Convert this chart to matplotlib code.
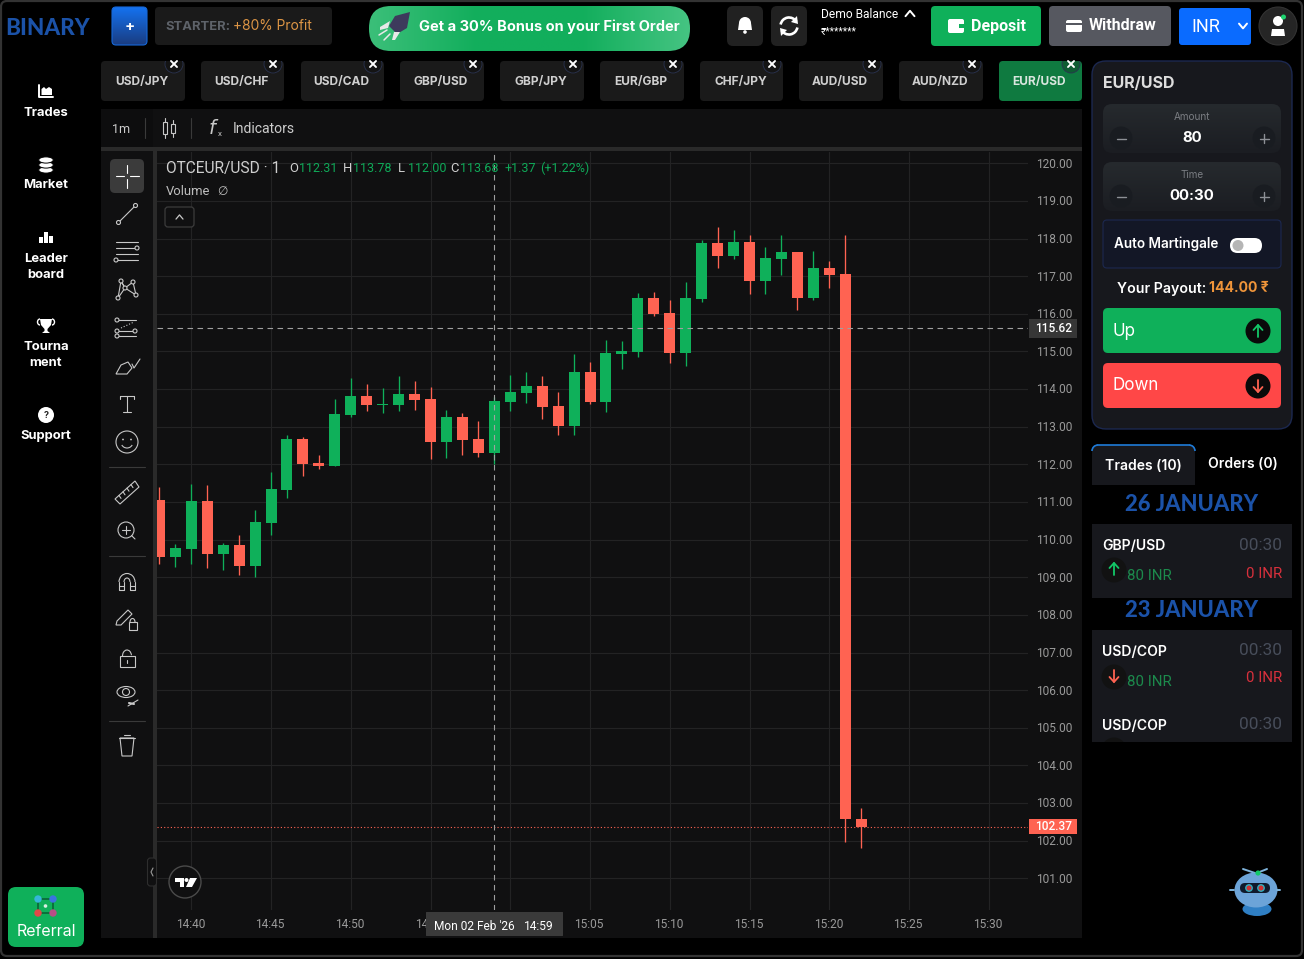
import matplotlib
matplotlib.use('Agg')
import matplotlib.pyplot as plt
import numpy as np
from matplotlib.patches import FancyBboxPatch, Circle, Ellipse, Rectangle, Polygon, Wedge, Arc
from matplotlib.colors import LinearSegmentedColormap
from matplotlib.transforms import ScaledTranslation

# candle data (1m candles)
times = ['14:38', '14:39', '14:40', '14:41', '14:42', '14:43', '14:44', '14:45', '14:46',
         '14:47', '14:48', '14:49', '14:50', '14:51', '14:52', '14:53', '14:54', '14:55',
         '14:56', '14:57', '14:58', '14:59', '15:00', '15:01', '15:02', '15:03', '15:04',
         '15:05', '15:06', '15:07', '15:08', '15:09', '15:10', '15:11', '15:12', '15:13',
         '15:14', '15:15', '15:16', '15:17', '15:18', '15:19', '15:20', '15:21', '15:22']
opens = [111.05, 109.55, 109.76, 111.03, 109.63, 109.86, 109.31, 110.45, 111.33,
         112.67, 112.04, 111.96, 113.32, 113.81, 113.58, 113.58, 113.87, 113.73,
         112.60, 113.26, 112.67, 112.31, 113.66, 113.90, 114.08, 113.55, 113.03,
         114.45, 113.66, 114.94, 114.99, 116.42, 116.02, 114.96, 116.40, 117.88,
         117.54, 117.90, 116.88, 117.46, 117.64, 116.42, 117.21, 117.05, 102.59]
highs = [111.40, 109.89, 111.48, 111.45, 109.91, 110.12, 110.79, 111.80, 112.78,
         112.73, 112.25, 113.73, 114.29, 114.13, 114.03, 114.35, 114.21, 114.05,
         113.44, 113.36, 113.15, 113.78, 114.37, 114.45, 114.35, 113.92, 114.93,
         114.72, 115.30, 115.27, 116.55, 116.58, 116.36, 116.84, 117.96, 118.30,
         118.22, 118.09, 117.77, 118.09, 117.64, 117.66, 117.40, 118.09, 102.88]
lows = [109.34, 109.28, 109.34, 109.26, 109.20, 109.07, 109.02, 110.13, 111.12,
        111.70, 111.88, 111.96, 113.27, 113.42, 113.37, 113.42, 113.45, 112.15,
        112.18, 112.26, 112.20, 112.00, 113.42, 113.64, 113.21, 112.79, 112.79,
        113.61, 113.40, 114.54, 114.86, 115.95, 114.70, 114.62, 116.32, 117.22,
        117.46, 116.53, 116.53, 117.04, 116.11, 116.37, 116.69, 101.96, 101.80]
closes = [109.55, 109.78, 111.03, 109.63, 109.86, 109.31, 110.47, 111.35, 112.67,
          112.02, 111.96, 113.34, 113.81, 113.58, 113.60, 113.87, 113.72, 112.60,
          113.26, 112.65, 112.31, 113.68, 113.92, 114.08, 113.53, 113.03, 114.45,
          113.66, 114.96, 115.01, 116.42, 116.00, 114.96, 116.42, 117.88, 117.54,
          117.90, 116.88, 117.48, 117.64, 116.42, 117.21, 117.04, 102.57, 102.37]

price_ticks = [120, 119, 118, 117, 116, 115, 114, 113, 112, 111, 110, 109, 108, 107, 106, 105, 104, 103, 102, 101]
time_ticks = ['14:40', '14:45', '14:50', '14:55', '15:00', '15:05', '15:10', '15:15', '15:20', '15:25', '15:30']
tabs = ['USD/JPY', 'USD/CHF', 'USD/CAD', 'GBP/USD', 'GBP/JPY', 'EUR/GBP', 'CHF/JPY', 'AUD/USD', 'AUD/NZD', 'EUR/USD']
cross_price = 115.62
last_price = 102.37
cross_time = '14:59'

GREEN = '#0fb05a'
RED = '#ff6352'
UI = 'Inter'
W, H = 1304, 959


def minutes(t):
    return (int(t[:2]) - 14) * 60 + int(t[3:]) - 40


fig = plt.figure(figsize=(W / 100, H / 100), dpi=100, facecolor='black')

back = fig.add_axes([0, 0, 1, 1], zorder=0)
back.set_xlim(0, W)
back.set_ylim(H, 0)
back.axis('off')
back.add_patch(Rectangle((101, 109), 981, 829, fc='#101011', ec='none'))
back.add_patch(Rectangle((101, 147), 981, 4, fc='#2a2a2a', ec='none'))
back.add_patch(Rectangle((153, 151), 4, 787, fc='#2a2a2a', ec='none'))
back.add_patch(Rectangle((101, 109), 52, 38, fc='#0d0d0e', ec='none'))

# main chart
ax = fig.add_axes([157 / W, 1 - 910 / H, 871 / W, 758 / H], zorder=1)
ax.set_facecolor('none')
for s in ax.spines.values():
    s.set_visible(False)
ax.set_xlim(-2.15, 52.46)
ax.set_ylim(100.16, 120.30)
ax.set_axisbelow(True)
ax.grid(True, color='#232324', lw=0.8)
ax.set_yticks(price_ticks)
ax.set_yticklabels(['%.2f' % p for p in price_ticks])
ax.yaxis.tick_right()
ax.set_xticks([minutes(t) for t in time_ticks])
ax.set_xticklabels(time_ticks)
ax.tick_params(length=0, colors='#9a9a9a', labelsize=8.6)
ax.tick_params(axis='y', pad=5.8)
ax.tick_params(axis='x', pad=5.5)
for lab in ax.get_xticklabels() + ax.get_yticklabels():
    lab.set_family('Roboto')
nudge = ScaledTranslation(-0.9 / 100, 0, fig.dpi_scale_trans)
for lab in ax.get_xticklabels():
    lab.set_transform(lab.get_transform() + nudge)
nudge_y = ScaledTranslation(0, 0.7 / 100, fig.dpi_scale_trans)
for lab in ax.get_yticklabels():
    lab.set_transform(lab.get_transform() + nudge_y)

for t, o, h, l, c in zip(times, opens, highs, lows, closes):
    col = GREEN if c >= o else RED
    m = minutes(t)
    ax.vlines(m, l, h, color=col, lw=0.95, zorder=3)
    ax.bar(m, abs(c - o), bottom=min(o, c), width=0.69, color=col, lw=0, zorder=3)

ax.axhline(cross_price, color='#a0a0a0', lw=0.8, dashes=(5, 4), zorder=4)
ax.axvline(minutes(cross_time), color='#a0a0a0', lw=0.8, dashes=(5, 4), zorder=4)
ax.axhline(last_price, color=RED, lw=0.8, dashes=(1, 2), zorder=2)

tr = ax.get_yaxis_transform()
ax.add_patch(Rectangle((1.001, cross_price - 0.25), 48 / 871, 0.5, transform=tr, fc='#363636', ec='none', clip_on=False, zorder=5))
ax.text(1.002 + 24 / 871, cross_price, '%.2f' % cross_price, transform=tr, color='white', fontsize=8.6, family='Roboto', ha='center', va='center', weight='medium', zorder=6)
ax.add_patch(Rectangle((1.001, last_price - 0.20), 48 / 871, 0.40, transform=tr, fc=RED, ec='none', clip_on=False, zorder=5))
ax.text(1.002 + 24 / 871, last_price, '%.2f' % last_price, transform=tr, color='white', fontsize=8.6, family='Roboto', ha='center', va='center', weight='medium', zorder=6)

# everything else sits on a pixel overlay
ui = fig.add_axes([0, 0, 1, 1], zorder=2)
ui.axis('off')
ui.patch.set_visible(False)


def box(x0, y0, x1, y1, r, fc, ec='none', lw=0.0, **kw):
    p = FancyBboxPatch((x0 + r, y0 + r), x1 - x0 - 2 * r, y1 - y0 - 2 * r,
                       boxstyle='round,pad=%f,rounding_size=%f' % (r, r), fc=fc, ec=ec, lw=lw, **kw)
    ui.add_patch(p)
    return p


def gbox(x0, y0, x1, y1, r, colors, horizontal=False, ec='none', lw=0.0):
    cm = LinearSegmentedColormap.from_list('g', colors)
    g = np.linspace(0, 1, 128).reshape(-1, 1)
    if horizontal:
        g = g.T
    im = ui.imshow(g, extent=(x0, x1, y1, y0), cmap=cm, aspect='auto', zorder=1.5)
    p = box(x0, y0, x1, y1, r, 'none', ec=ec, lw=lw, zorder=1.6)
    im.set_clip_path(p)


def txt(x, y, s, px, color='white', weight='normal', ha='left', fam=UI, **kw):
    return ui.text(x, y + 1.5, s, fontsize=px * 0.72, color=color, weight=weight, ha=ha, va='center', family=fam, **kw)


def ln(xs, ys, color='#c8c8c8', lw=0.8, **kw):
    ui.plot(xs, ys, color=color, lw=lw, solid_capstyle='round', **kw)


def circ(x, y, r, fc='none', ec='#c8c8c8', lw=0.8, **kw):
    p = Circle((x, y), r, fc=fc, ec=ec, lw=lw, **kw)
    ui.add_patch(p)
    return p


def arrow(x, y, col, up=True, s=6):
    d = -1 if up else 1
    ln([x, x], [y - d * s, y + d * s], col, 1.3, zorder=6)
    ln([x - 4.5, x, x + 4.5], [y + d * (s - 5), y + d * s, y + d * (s - 5)], col, 1.3, zorder=6)


def chev(x, y, s, col='white', lw=1.5, up=True):
    d = -1 if up else 1
    ln([x - s, x, x + s], [y - d * s * 0.6, y + d * s * 0.6, y - d * s * 0.6], col, lw)


# window frame
box(1, 1, 1302, 956, 6, 'none', ec='#333333', lw=1.6)

# top bar
txt(5, 27, 'BINARY', 22.5, '#1b52a8', 'black', fam='Lato')
gbox(112, 7, 147, 45, 4, ['#1472f0', '#1a3c80'], ec='#1668d8', lw=0.8)
txt(129.5, 25, '+', 15, 'white', 'bold', 'center')
box(155, 7, 332, 45, 4, '#1a1a1a')
txt(165, 25, 'STARTER:', 13, '#5e636a', 'bold')
txt(233, 25, '+80% Profit', 13.8, '#dd9545')
gbox(369, 6, 690, 51, 22, ['#3bbf79', '#12ae5c', '#12ae5c', '#45c482'], horizontal=True)
txt(419, 25, 'Get a 30% Bonus on your First Order', 14.6, 'white', 'bold')

# rocket
rx, ry = 396, 25
ui.add_patch(Polygon([(rx + 14, ry - 13), (rx + 11, ry + 3), (rx + 1, ry + 9), (rx - 7, ry + 1), (rx - 1, ry - 9)], fc='#3d3a5c', ec='none', zorder=3))
ui.add_patch(Polygon([(rx - 6, ry - 4), (rx - 16, ry + 2), (rx - 16, ry + 5), (rx - 8, ry + 3)], fc='#e8e8e8', ec='none', zorder=3))
ui.add_patch(Polygon([(rx + 4, ry + 7), (rx - 1, ry + 15), (rx - 4, ry + 15), (rx - 2, ry + 7)], fc='#e8e8e8', ec='none', zorder=3))
ln([rx - 17, rx - 9], [ry + 10, ry + 5], '#e8e8e8', 1.1, zorder=3)
ln([rx - 12, rx - 6], [ry + 15, ry + 9], '#e8e8e8', 1.1, zorder=3)

box(727, 6, 763, 46, 6, '#212121')
ui.add_patch(Wedge((745, 23), 6, 180, 360, fc='white', ec='none', zorder=3))
ui.add_patch(Polygon([(739, 23), (751, 23), (752, 30), (738, 30)], fc='white', ec='none', zorder=3))
circ(745, 32, 1.8, 'white', 'none', 0)
box(771, 6, 807, 46, 6, '#212121')
ui.add_patch(Arc((789, 26), 17, 17, theta1=190, theta2=330, ec='white', lw=1.9, zorder=3))
ui.add_patch(Arc((789, 26), 17, 17, theta1=10, theta2=150, ec='white', lw=1.9, zorder=3))
ui.add_patch(Polygon([(797, 16), (798, 24), (791, 22)], fc='white', ec='none', zorder=3))
ui.add_patch(Polygon([(781, 36), (780, 28), (787, 30)], fc='white', ec='none', zorder=3))

txt(821, 13, 'Demo Balance', 12, 'white', fam='Roboto')
chev(910, 13.5, 4.5, 'white', 1.4, up=True)
txt(821, 30, '₹*******', 10, 'white', fam=['Roboto', 'DejaVu Sans'])

box(931, 6, 1041, 46, 4, '#0fb05a')
box(948, 19, 964, 33, 2, 'white')
ui.add_patch(Rectangle((959, 24), 5, 4, fc='#0fb05a', ec='none', zorder=3))
txt(971, 24.5, 'Deposit', 16, 'white', 'bold', fam='Roboto')
box(1049, 6, 1171, 46, 4, '#565860')
box(1066, 20, 1082, 32, 2, 'white')
ui.add_patch(Rectangle((1066, 23), 16, 2, fc='#565860', ec='none', zorder=3))
txt(1089, 24.5, 'Withdraw', 16, 'white', 'bold', fam='Roboto')
box(1179, 8, 1251, 45, 3, '#0a6bff')
txt(1191, 26, 'INR', 18, 'white', fam='Roboto')
chev(1243, 26, 4, 'white', 1.4, up=False)
circ(1278, 26, 19, '#252525', '#333333', 0.8)
circ(1278, 21, 5, 'white', 'none', 0)
ui.add_patch(Polygon([(1271, 36), (1272, 29), (1284, 29), (1285, 36)], fc='white', ec='none', zorder=3))
circ(1283.5, 17, 2.5, '#1ed36f', 'none', 0)

# pair tabs
tab_x0 = [101, 201, 301, 400, 500, 600, 700, 799, 899, 999]
tab_x1 = [185, 284, 384, 484, 584, 684, 783, 883, 983, 1082]
for name, x0, x1 in zip(tabs, tab_x0, tab_x1):
    active = x0 == 999
    box(x0, 61, x1, 101, 4, '#0f7a40' if active else '#1a1a1a')
    txt((x0 + x1) / 2 - 1, 80, name, 12, '#cfcfcf' if not active else '#d8e6de', 'bold', 'center')
    clip = Rectangle((x0, 61), x1 - x0 + 5, 40, transform=ui.transData)
    c = circ(x1 - 11, 64, 9, '#141414' if not active else '#0f5c33', '#2a3350', 0.6)
    c.set_clip_path(clip)
    cx, cy = x1 - 11, 64
    ln([cx - 3, cx + 3], [cy - 3, cy + 3], 'white', 1.4)
    ln([cx - 3, cx + 3], [cy + 3, cy - 3], 'white', 1.4)

# chart top toolbar
txt(112, 128, '1m', 12.5, '#cccccc', fam='Roboto')
ln([145, 145], [118, 138], '#3a3a3a')
ln([191, 191], [118, 138], '#3a3a3a')
ui.add_patch(Rectangle((162.5, 122), 4, 12, fc='none', ec='#c8c8c8', lw=0.8))
ui.add_patch(Rectangle((170.5, 124), 4, 9, fc='none', ec='#c8c8c8', lw=0.8))
ln([164.5, 164.5], [118, 122]); ln([164.5, 164.5], [134, 138])
ln([172.5, 172.5], [120, 124]); ln([172.5, 172.5], [133, 137])
ui.text(214, 128, r'$f$', fontsize=14, color='#c8c8c8', ha='center', va='center', family='DejaVu Serif')
txt(218, 133, 'x', 8, '#c8c8c8', fam='Roboto')
txt(233, 127.5, 'Indicators', 14, '#cccccc', fam='Roboto')

# legend over chart
txt(166, 167, 'OTCEUR/USD · 1', 15.5, '#cfcfcf', fam='Roboto')
for x, lab, val in [(289, 'O', '112.31'), (343, 'H', '113.78'), (398, 'L', '112.00'), (450, 'C', '113.68')]:
    txt(x, 167, lab, 13, '#cfcfcf', fam='Roboto')
    txt(x + 10, 167, val, 12.5, '#0fa958', fam='Roboto')
txt(504, 167, '+1.37', 12.5, '#0fa958', fam='Roboto')
txt(540, 167, '(+1.22%)', 12.5, '#0fa958', fam='Roboto')
txt(166, 190, 'Volume', 13, '#bdbdbd', fam='Roboto')
txt(217, 190, '∅', 12, '#bdbdbd', fam='DejaVu Sans')
box(165, 207, 194, 227, 3, '#101011', '#3c3c3c', 0.9)
chev(179.5, 217, 3.5, '#c8c8c8', 0.9, up=True)

# drawing tools column
box(110, 159, 144, 193, 5, '#3b3b3b')
ln([116, 124], [176, 176], 'white'); ln([130, 139], [176, 176], 'white')
ln([127, 127], [165, 173], 'white'); ln([127, 127], [179, 188], 'white')
ln([118.5, 135.5], [222.5, 205.5])
circ(118.5, 222.5, 2, '#101011', zorder=3); circ(135.5, 205.5, 2, '#101011', zorder=3)
for y in [242, 248, 254, 260]:
    ln([116, 138], [y, y])
circ(137, 248, 2, '#101011', zorder=3); circ(116, 260, 2, '#101011', zorder=3)
pts = [(118, 298), (121, 281), (125, 288), (133, 282), (136, 295)]
ln([p[0] for p in pts], [p[1] for p in pts])
ln([118, 125], [298, 288]); ln([121, 125], [281, 288]); ln([125, 136], [288, 295])
for p in pts:
    circ(p[0], p[1], 2, '#101011', zorder=3)
for y, xa in [(320, 117), (331, 117), (336, 117)]:
    ln([xa, 136], [y, y])
ln([121, 134], [328, 322], lw=0.8, ls=':')
for p in [(117, 320), (117, 331), (117, 336), (135, 331)]:
    circ(p[0], p[1], 2, '#101011', zorder=3)
ui.add_patch(Polygon([(116, 374), (121, 365), (128, 362), (132, 368), (127, 374)], fc='none', ec='#c8c8c8', lw=0.8))
ln([132, 134, 140], [364, 368, 359])
ln([120, 134], [396, 396]); ln([127, 127], [396, 412]); ln([123, 131], [412, 412]); ln([120, 120], [396, 399]); ln([134, 134], [396, 399])
circ(127, 442, 11)
circ(123, 439.5, 0.9, '#c8c8c8', 'none', 0); circ(131, 439.5, 0.9, '#c8c8c8', 'none', 0)
ui.add_patch(Arc((127, 442), 12, 12, theta1=30, theta2=150, ec='#c8c8c8', lw=0.8))
for y in [467, 556, 721]:
    ln([109, 145], [y, y], '#3a3a3a')
ui.add_patch(Polygon([(115, 499), (135, 481), (139, 487), (120, 504)], fc='none', ec='#c8c8c8', lw=0.8))
for t in [0.2, 0.4, 0.6, 0.8]:
    xa, ya = 115 + 20 * t, 499 - 18 * t
    ln([xa, xa + 2], [ya, ya + 3])
circ(126, 530, 8)
ln([122, 130], [530, 530]); ln([126, 126], [526, 534]); ln([131.5, 135], [535.5, 539])
ui.add_patch(Arc((127, 582), 16, 17, theta1=180, theta2=360, ec='#c8c8c8', lw=0.8))
ui.add_patch(Arc((127, 582), 6, 8, theta1=180, theta2=360, ec='#c8c8c8', lw=0.8))
ln([119, 119, 124, 124], [582, 590, 590, 582]); ln([130, 130, 135, 135], [582, 590, 590, 582])
ln([119, 124], [586, 586]); ln([130, 135], [586, 586])
ui.add_patch(Polygon([(116, 625), (117, 621), (128, 610), (132, 614), (121, 625)], fc='none', ec='#c8c8c8', lw=0.8))
ui.add_patch(Rectangle((128.5, 622), 8, 8, fc='none', ec='#c8c8c8', lw=0.8))
ui.add_patch(Arc((132.5, 622), 5, 7, theta1=180, theta2=360, ec='#c8c8c8', lw=0.8))
ui.add_patch(Rectangle((119.5, 656), 15, 11, fc='none', ec='#c8c8c8', lw=0.8))
ui.add_patch(Arc((127, 656), 9, 12, theta1=170, theta2=350, ec='#c8c8c8', lw=0.8))
ln([127, 127], [660, 663])
ui.add_patch(Ellipse((126, 692), 18, 11, fc='none', ec='#c8c8c8', lw=0.8))
circ(126, 692, 3.5)
ln([128, 138], [706, 700], lw=0.8)
ln([129, 134], [703, 704], lw=1.5)
ln([119, 135], [738, 738]); ln([124, 130], [735, 735])
ui.add_patch(Polygon([(120, 738), (134, 738), (132, 756), (122, 756)], fc='none', ec='#c8c8c8', lw=0.8))

# bottom chart bits
box(147.5, 858, 156.5, 886, 3, '#101011', '#2e2e2e', 0.8)
ln([153, 151, 153], [868, 872, 876], '#9a9a9a', 0.8)
circ(185, 882, 16, '#101011', '#4a4a4a', 1.0)
ui.add_patch(Polygon([(175, 878), (184, 878), (184, 887), (180, 887), (180, 882), (175, 882)], fc='white', ec='none', zorder=3))
circ(186.5, 880, 2, 'white', 'none', 0)
ui.add_patch(Polygon([(190, 878), (197, 878), (192, 887), (186, 887)], fc='white', ec='none', zorder=3))
box(426, 912, 563, 936, 0.5, '#3a3a3a', zorder=3)
txt(434, 924.5, "Mon 02 Feb '26", 11.9, 'white', fam='Roboto', zorder=4)
txt(524, 924.5, '14:59', 12, 'white', fam='Roboto', zorder=4)

# left nav
ln([39, 39, 53], [85, 97, 97], 'white', 1.4)
ui.add_patch(Polygon([(41.5, 95), (41.5, 89), (44, 87), (46, 89), (49, 87), (52, 89), (52, 95)], fc='white', ec='none', zorder=3))
txt(46, 111, 'Trades', 13, 'white', 'bold', 'center')
for yy in [170, 165, 160]:
    ui.add_patch(Ellipse((46, yy), 14.5, 6.2, fc='white', ec='black', lw=0.7, zorder=3))
txt(46, 184, 'Market', 13, 'white', 'bold', 'center')
for x, h_ in [(41, 6), (46, 11), (51, 7)]:
    ui.add_patch(Rectangle((x - 2, 243 - h_), 4, h_, fc='white', ec='none', zorder=3))
txt(46, 257, 'Leader', 13, 'white', 'bold', 'center')
txt(46, 273, 'board', 13, 'white', 'bold', 'center')
ui.add_patch(Polygon([(40, 319), (52, 319), (51, 325), (47.5, 329), (47.5, 331), (50, 333), (42, 333), (44.5, 331), (44.5, 329), (41, 325)], fc='white', ec='none', zorder=3))
ui.add_patch(Arc((40, 322), 5, 6, theta1=90, theta2=270, ec='white', lw=1))
ui.add_patch(Arc((52, 322), 5, 6, theta1=270, theta2=90, ec='white', lw=1))
txt(46, 346, 'Tourna', 13, 'white', 'bold', 'center')
txt(46, 362, 'ment', 13, 'white', 'bold', 'center')
circ(46, 415, 8, 'white', 'none', 0)
txt(46, 413.5, '?', 9, '#222222', 'bold', 'center', zorder=4)
txt(46, 435, 'Support', 13, 'white', 'bold', 'center')

box(8, 887, 84, 947, 8, '#0fb05a')
ln([38, 53, 53, 38, 38], [899, 899, 913, 913, 899], '#0a5f34', 1.1, zorder=3)
circ(38, 899, 3.7, '#35b6d8', 'none', 0, zorder=4); circ(53, 899, 3.7, '#3a74e0', 'none', 0, zorder=4)
circ(38, 913, 3.7, '#e04848', 'none', 0, zorder=4); circ(53, 913, 3.7, '#b84f86', 'none', 0, zorder=4)
circ(45.5, 906, 1.8, '#d8efe2', 'none', 0, zorder=4)
txt(46, 929.5, 'Referral', 16, 'white', ha='center')

# right panel
box(1092, 61, 1292, 429, 14, '#17181d', '#1c2850', 1.0)
txt(1103, 82.5, 'EUR/USD', 16, '#dddddd', 'bold')
for y0, y1, lab, val in [(104, 153, 'Amount', '80'), (162, 211, 'Time', '00:30')]:
    gbox(1103, y0, 1281, y1, 9, ['#262a2e', '#1b1d22'])
    txt(1192, y0 + 11.5, lab, 10, '#7a7d82', ha='center', zorder=3)
    txt(1192, y0 + 32, val, 15, 'white', 'bold', 'center', zorder=3)
    for cx, sym in [(1121, '-'), (1264, '+')]:
        circ(cx, y0 + 34, 11.5, '#191c21', 'none', 0, zorder=3)
        ln([cx - 4.5, cx + 4.5], [y0 + 34.5, y0 + 34.5], '#8d9096', 1.0, zorder=4)
        if sym == '+':
            ln([cx, cx], [y0 + 30, y0 + 39], '#8d9096', 1.0, zorder=4)
box(1103, 220, 1281, 268, 4, '#131726', '#1c2850', 0.8)
txt(1114, 242, 'Auto Martingale', 13.5, 'white', 'semibold')
box(1230, 238, 1262, 253, 7.5, 'white')
circ(1238, 245.5, 5.5, '#b5b5b5', 'none', 0, zorder=3)
txt(1117, 287, 'Your Payout:', 14.2, 'white', 'semibold')
txt(1209, 287, '144.00 ₹', 14, '#f0953a', 'bold', fam=[UI, 'DejaVu Sans'])
box(1103, 308, 1281, 353, 5, '#0fb05a')
txt(1113, 329.5, 'Up', 17, 'white')
circ(1258, 331, 12.5, '#0a0a0a', 'none', 0, zorder=3)
arrow(1258, 331, '#12c868', True)
box(1103, 363, 1281, 408, 5, '#ff4747')
txt(1113, 384.5, 'Down', 17, 'white')
circ(1258, 386, 12.5, '#0a0a0a', 'none', 0, zorder=3)
arrow(1258, 386, '#ff6352', False)

# trades list
box(1092, 445, 1195, 495, 6, '#17181d')
ui.add_patch(Arc((1098, 451), 12, 12, theta1=180, theta2=270, ec='#1f7bd8', lw=1.2, zorder=3))
ui.add_patch(Arc((1189, 451), 12, 12, theta1=270, theta2=360, ec='#1f7bd8', lw=1.2, zorder=3))
ln([1098, 1189], [445, 445], '#1f7bd8', 1.2, zorder=3)
ui.add_patch(Rectangle((1090, 485), 108, 12, fc='black', ec='none', zorder=2))
txt(1143, 464, 'Trades (10)', 14, 'white', 'semibold', 'center', zorder=3)
txt(1243, 463, 'Orders (0)', 14, 'white', 'semibold', 'center')
txt(1192, 503, '26 JANUARY', 22, '#1b52a8', 'black', 'center', fam='Lato')
ui.add_patch(Rectangle((1092, 524), 200, 74, fc='#17181d', ec='none'))
txt(1192, 609, '23 JANUARY', 22, '#1b52a8', 'black', 'center', fam='Lato')
panel2 = Rectangle((1092, 630), 200, 112, fc='#17181d', ec='none')
ui.add_patch(panel2)
for y, pair in [(546, 'GBP/USD'), (651, 'USD/COP'), (725, 'USD/COP')]:
    txt(1102, y - 1, pair, 14, 'white', 'semibold')
    txt(1282, y - 2, '00:30', 17.3, '#474d5a', ha='right', fam='Roboto')
circ(1114, 570, 12.5, '#121212', 'none', 0)
arrow(1114, 569, '#12c868', True)
txt(1127, 575, '80 INR', 15, '#1c8a4c', fam='Roboto')
txt(1282, 572, '0 INR', 15, '#d9303c', ha='right', fam='Roboto')
circ(1114, 677, 12.5, '#121212', 'none', 0)
arrow(1114, 676, '#ff6352', False)
txt(1127, 681, '80 INR', 15, '#1c8a4c', fam='Roboto')
txt(1282, 677, '0 INR', 15, '#d9303c', ha='right', fam='Roboto')
c = circ(1114, 750, 12.5, '#121212', 'none', 0)
c.set_clip_path(panel2)

# robot helper
ln([1243, 1255], [869, 873], '#7fb4dc', 1.4, zorder=3)
ln([1267, 1257], [869, 873], '#7fb4dc', 1.4, zorder=3)
ui.add_patch(Ellipse((1257, 909), 29, 14, fc='#2f7fc4', ec='none', zorder=3))
ui.add_patch(Ellipse((1256, 890), 43, 35, fc='#6ca4d8', ec='none', zorder=3))
box(1240, 883, 1270, 893, 5, '#101a2a', zorder=4)
circ(1249, 888, 3.2, '#d03030', '#30b0c0', 1, zorder=5)
circ(1261, 888, 3.2, '#d03030', '#30b0c0', 1, zorder=5)
circ(1258, 873, 2.6, '#12c868', 'none', 0, zorder=5)
ln([1230, 1234], [890, 890], '#7fb4dc', 1.4, zorder=3)
ln([1277, 1280], [890, 890], '#7fb4dc', 1.4, zorder=3)

ui.set_xlim(0, W)
ui.set_ylim(H, 0)

fig.savefig('out.png', dpi=100, facecolor='black')
